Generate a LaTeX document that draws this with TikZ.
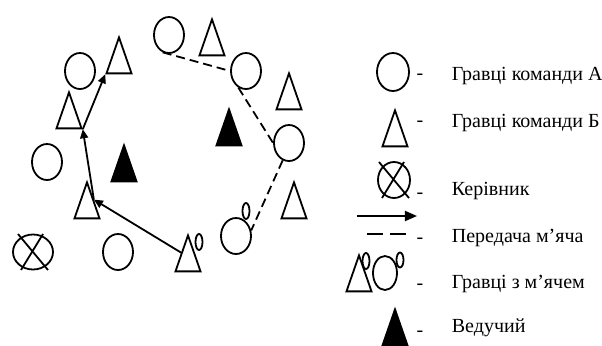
\documentclass[tikz,border=0pt]{standalone}
\usepackage{fontspec}
\setmainfont{Liberation Serif}
\usetikzlibrary{positioning,shapes.geometric,arrows.meta}

\begin{document}
\begin{tikzpicture}[x=0.5pt,y=-0.5pt,line width=0.9pt,
		teamA/.style={draw,ellipse,inner sep=0pt,minimum width=15pt,minimum height=18pt},
		teamB/.style={draw,isosceles triangle,shape border rotate=90,isosceles triangle stretches,inner sep=0pt,minimum width=12.5pt,minimum height=18pt,anchor=apex},
		lead/.style={teamB,fill=black},
		ball/.style={draw,ellipse,inner sep=0pt,minimum width=3.5pt,minimum height=8pt},
		coach/.style={teamA,minimum width=20pt,minimum height=17.5pt},
		pass/.style={-{Triangle[length=4.5pt,width=4pt]}},
		toss/.style={dash pattern=on 4.5pt off 2.5pt},
		lbl/.style={anchor=base west,font=\fontsize{10}{12}\selectfont,inner sep=0pt}]
	\useasboundingbox (0,0) rectangle (602,345);
	
	% field
	\foreach \nm/\x/\y in {cA1/169/35,cA2/80/71,cA3/246/71,cA4/289/143,cA5/47/162,cA6/236/236,cA7/118/252} {
		\node[teamA] (\nm) at (\x,\y) {};
	}
	\foreach \nm/\x/\y in {tB1/212/17,tB2/119/35,tB3/289/71,tB4/69/90,tB5/87/180,tB6/294/180,tB7/188/233} {
		\node[teamB] (\nm) at (\x,\y) {};
	}
	\node[lead] (vL1) at (124,143) {};
	\node[lead] (vL2) at (229,107) {};
	\node[ball] (bA6) at (246,211) {};
	\node[ball] (bB7) at (199,242) {};
	\node[coach] (cX) at (33,252) {};
	
	\draw[pass] (tB7.left side) -- (tB5.right side);
	\draw[pass] (tB5.right side) -- (tB4.right corner);
	\draw[pass] (tB4.right corner) -- (tB2.left corner);
	
	\draw[toss] (cA1.250) -- (cA3.west);
	\draw[toss] (cA3.245) -- (cA4.west);
	\draw[toss] (cA4.250) -- (cA6.20);
	
	% legend
	\node[teamA,minimum width=16pt,minimum height=19pt] (lA) at (393,72) {};
	\node[teamB] (lB) at (395,108) {};
	\node[coach,minimum width=16pt,minimum height=18pt] (lX) at (394,180) {};
	\coordinate (la0) at (357,216);
	\coordinate (la1) at (417,216);
	\draw[-{Triangle[length=6pt,width=5pt]}] (la0) -- (la1);
	\coordinate (ld0) at (367,234);
	\coordinate (ld1) at (407,234);
	\draw[dash pattern=on 8pt off 3.5pt] (ld0) -- (ld1);
	\node[teamB] (lBb) at (359,253) {};
	\node[ball] (lb1) at (366,261) {};
	\node[teamA,minimum width=12pt,minimum height=17pt] (lAb) at (385,273) {};
	\node[ball,minimum height=7.5pt] (lb2) at (400,260) {};
	\node[lead] (lL) at (395,307) {};
	
	\foreach \c in {cX,lX} {
		\draw (\c) +(-15,-18) -- +(15,18) (\c) +(-12,18) -- +(10,-18);
	}
	
	\foreach \y in {77,124,196,241,287,334} {
		\node[font=\fontsize{10}{12}\selectfont,inner sep=0pt] (h\y) at (420,\y) {-};
	}
	\node[lbl] (t1) at (451,80) {Гравці команди А};
	\node[lbl] (t2) at (451,127) {Гравці команди Б};
	\node[lbl] (t3) at (451,195) {Керівник};
	\node[lbl] (t4) at (451,242) {Передача м’яча};
	\node[lbl] (t5) at (451,288) {Гравці з м’ячем};
	\node[lbl] (t6) at (451,332) {Ведучий};
\end{tikzpicture}
\end{document}
